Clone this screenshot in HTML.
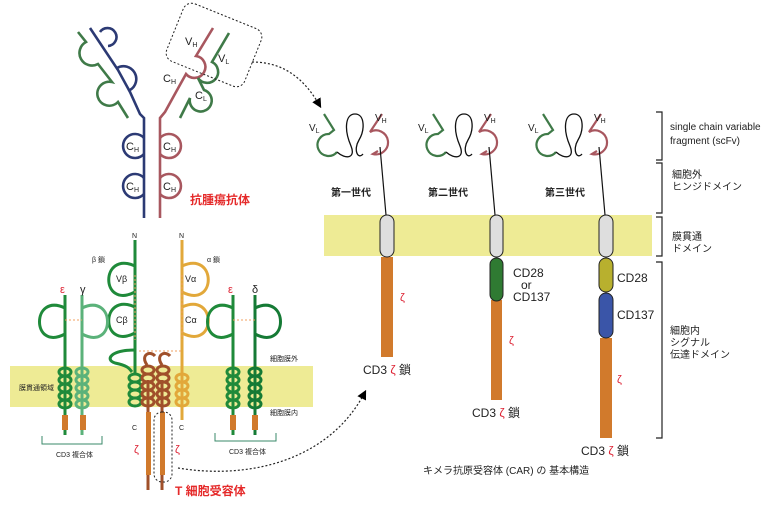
<!DOCTYPE html>
<html><head><meta charset="utf-8"><style>
html,body{margin:0;padding:0;background:#fff}
svg{display:block}
text{font-family:"Liberation Sans","Noto Sans CJK JP",sans-serif}
</style></head><body>
<svg width="777" height="512" viewBox="0 0 777 512" xmlns="http://www.w3.org/2000/svg">
<defs>
<marker id="ah" markerWidth="8" markerHeight="8" refX="6" refY="4" orient="auto"><path d="M0,0 L8,4 L0,8 z" fill="#000"/></marker>
<g id="scfv" fill="none" stroke-width="2.2">
<path d="M24,14 L34,30 L29,34 A11,11 0 1 0 37,52" stroke="#3f7a48"/>
<path d="M37,52 C46,60 56,58 51,46 C44,30 45,14 55,14 C65,14 65,30 59,40 C53,50 58,60 63,54" stroke="#111" stroke-width="1.3"/>
<path d="M82,14 L70,32 A12,12 0 1 1 73,54 L78,51" stroke="#a8575f"/>
<line x1="80" y1="47" x2="86" y2="115" stroke="#111" stroke-width="1.2"/>
</g>
</defs>

<!-- Antibody -->
<g fill="none" stroke-width="2.6">
<path d="M90,28 L118,70 L130,92 L140,114 L144,118 L144,218" stroke="#2c3a74"/>
<path d="M100,32 A9,9 0 1 1 108,46 M117,68 A10,10 0 1 1 130,90" stroke="#2c3a74"/>
<path d="M78,32 L86,42 A12,12 0 1 0 98,64 L112,82 A12,12 0 1 0 118,102 L128,118" stroke="#3f7a48"/>
<path d="M213,28 L196,56 A11,11 0 1 1 186,74 L176,92 L165,112 L160,118 L160,218" stroke="#a8575f"/>
<path d="M229,33 L212,62 A11,11 0 1 1 198,78 L204,90 A11,11 0 1 1 190,98 L180,118" stroke="#3f7a48"/>
<path d="M144,138 A12,12 0 1 0 144,154 M144,178 A12,12 0 1 0 144,194" stroke="#2c3a74"/>
<path d="M160,138 A12,12 0 1 1 160,154 M160,178 A12,12 0 1 1 160,194" stroke="#a8575f"/>
</g>
<g font-size="11" fill="#222">
<text x="126" y="150">C<tspan font-size="7" dy="2">H</tspan></text>
<text x="126" y="190">C<tspan font-size="7" dy="2">H</tspan></text>
<text x="163" y="150">C<tspan font-size="7" dy="2">H</tspan></text>
<text x="163" y="190">C<tspan font-size="7" dy="2">H</tspan></text>
<text x="163" y="82">C<tspan font-size="7" dy="2">H</tspan></text>
<text x="195" y="99">C<tspan font-size="7" dy="2">L</tspan></text>
<text x="185" y="45">V<tspan font-size="7" dy="2">H</tspan></text>
<text x="218" y="62">V<tspan font-size="7" dy="2">L</tspan></text>
</g>
<text x="190" y="204" font-size="12" font-weight="bold" fill="#e52a2a">抗腫瘍抗体</text>
<rect x="172" y="14" width="84" height="62" rx="9" fill="none" stroke="#222" stroke-dasharray="2,2" transform="rotate(22 214 45)"/>
<path d="M252,62 C285,62 305,80 320,106" fill="none" stroke="#222" stroke-width="1.2" stroke-dasharray="2,2" marker-end="url(#ah)"/>

<!-- TCR -->
<rect x="10" y="366" width="303" height="41" fill="#eeeb95"/>
<g fill="none" stroke-width="3">
<path d="M135,240 L135,375" stroke="#1f8a3a"/>
<path d="M135,266 C100,250 100,310 135,292 M135,307 C100,291 100,351 135,333" stroke="#1f8a3a"/>
<path d="M135,350 C110,350 105,360 115,363 C130,366 130,370 132,372" stroke="#1f8a3a"/>
<path d="M182,240 L182,420" stroke="#e2a83a"/>
<path d="M182,266 C217,250 217,310 182,292 M182,307 C217,291 217,351 182,333" stroke="#e2a83a"/>
<path d="M65,295 L65,435" stroke="#1f8a3a"/>
<path d="M82,295 L82,435" stroke="#5bb27a"/>
<path d="M65,308 C31,292 31,352 65,334" stroke="#1f8a3a"/>
<path d="M82,308 C116,292 116,352 82,334" stroke="#5bb27a"/>
<path d="M233,295 L233,435" stroke="#1f8a3a"/>
<path d="M255,295 L255,435" stroke="#157a35"/>
<path d="M233,308 C199,292 199,352 233,334" stroke="#1f8a3a"/>
<path d="M255,308 C289,292 289,352 255,334" stroke="#157a35"/>
<path d="M148,380 L148,490 M162,380 L162,490" stroke="#a0502a"/>
<path d="M147,365 C140,355 150,350 155,356 M162,365 C155,355 165,350 170,356" stroke="#a0502a"/>
</g>
<g fill="none" stroke-width="3">
<g stroke="#1f8a3a"><ellipse cx="135" cy="378" rx="6" ry="4"/><ellipse cx="135" cy="386" rx="6" ry="4"/><ellipse cx="135" cy="394" rx="6" ry="4"/><ellipse cx="135" cy="402" rx="6" ry="4"/></g>
<g stroke="#a0502a"><ellipse cx="148" cy="370" rx="6" ry="4"/><ellipse cx="148" cy="378" rx="6" ry="4"/><ellipse cx="148" cy="386" rx="6" ry="4"/><ellipse cx="148" cy="394" rx="6" ry="4"/><ellipse cx="148" cy="402" rx="6" ry="4"/>
<ellipse cx="163" cy="370" rx="6" ry="4"/><ellipse cx="163" cy="378" rx="6" ry="4"/><ellipse cx="163" cy="386" rx="6" ry="4"/><ellipse cx="163" cy="394" rx="6" ry="4"/><ellipse cx="163" cy="402" rx="6" ry="4"/></g>
<g stroke="#e2a83a"><ellipse cx="182" cy="378" rx="6" ry="4"/><ellipse cx="182" cy="386" rx="6" ry="4"/><ellipse cx="182" cy="394" rx="6" ry="4"/><ellipse cx="182" cy="402" rx="6" ry="4"/></g>
<g stroke="#1f8a3a"><ellipse cx="65" cy="372" rx="6" ry="4"/><ellipse cx="65" cy="380" rx="6" ry="4"/><ellipse cx="65" cy="388" rx="6" ry="4"/><ellipse cx="65" cy="396" rx="6" ry="4"/><ellipse cx="65" cy="404" rx="6" ry="4"/>
<ellipse cx="233" cy="372" rx="6" ry="4"/><ellipse cx="233" cy="380" rx="6" ry="4"/><ellipse cx="233" cy="388" rx="6" ry="4"/><ellipse cx="233" cy="396" rx="6" ry="4"/><ellipse cx="233" cy="404" rx="6" ry="4"/></g>
<g stroke="#5bb27a"><ellipse cx="82" cy="372" rx="6" ry="4"/><ellipse cx="82" cy="380" rx="6" ry="4"/><ellipse cx="82" cy="388" rx="6" ry="4"/><ellipse cx="82" cy="396" rx="6" ry="4"/><ellipse cx="82" cy="404" rx="6" ry="4"/></g>
<g stroke="#157a35"><ellipse cx="255" cy="372" rx="6" ry="4"/><ellipse cx="255" cy="380" rx="6" ry="4"/><ellipse cx="255" cy="388" rx="6" ry="4"/><ellipse cx="255" cy="396" rx="6" ry="4"/><ellipse cx="255" cy="404" rx="6" ry="4"/></g>
</g>
<g fill="#d17a2c">
<rect x="146" y="412" width="5" height="63"/><rect x="160" y="412" width="5" height="63"/>
<rect x="62" y="415" width="6" height="15"/><rect x="80" y="415" width="6" height="15"/>
<rect x="230" y="415" width="6" height="15"/><rect x="252" y="415" width="6" height="15"/>
</g>
<g stroke="#f0a060" stroke-dasharray="2,2" stroke-width="1">
<line x1="135" y1="275" x2="135" y2="340"/><line x1="182" y1="275" x2="182" y2="340"/>
<line x1="139" y1="351" x2="182" y2="351"/>
<line x1="65" y1="320" x2="82" y2="320"/><line x1="233" y1="320" x2="255" y2="320"/>
</g>
<rect x="154" y="412" width="18" height="70" rx="8" fill="none" stroke="#222" stroke-dasharray="2,2"/>
<path d="M178,468 C250,480 330,460 365,392" fill="none" stroke="#222" stroke-width="1.2" stroke-dasharray="2,2" marker-end="url(#ah)"/>
<g stroke="#3a8a6a" fill="none" stroke-width="1"><path d="M42,436 L42,444 L102,444 L102,436"/><path d="M215,433 L215,441 L276,441 L276,433"/></g>
<g font-size="7" fill="#222">
<text x="132" y="238">N</text><text x="179" y="238">N</text>
<text x="132" y="430">C</text><text x="179" y="430">C</text>
<text x="92" y="262">β 鎖</text><text x="207" y="262">α 鎖</text>
<text x="19" y="390">膜貫通領域</text>
<text x="270" y="361">細胞膜外</text><text x="270" y="415">細胞膜内</text>
<text x="56" y="457">CD3 複合体</text><text x="229" y="454">CD3 複合体</text>
</g>
<g font-size="9" fill="#222"><text x="116" y="282">Vβ</text><text x="116" y="323">Cβ</text><text x="185" y="282">Vα</text><text x="185" y="323">Cα</text></g>
<g font-size="11" fill="#d23"><text x="60" y="293">ε</text><text x="228" y="293">ε</text><text x="134" y="453">ζ</text><text x="175" y="453">ζ</text></g>
<g font-size="11" fill="#222"><text x="80" y="293">γ</text><text x="252" y="293">δ</text></g>
<text x="175" y="495" font-size="12" font-weight="bold" fill="#e52a2a">T 細胞受容体</text>

<!-- CAR -->
<rect x="324" y="215" width="328" height="41" fill="#eeeb95"/>
<use href="#scfv" x="300" y="100"/>
<use href="#scfv" x="409" y="100"/>
<use href="#scfv" x="519" y="100"/>
<g font-size="10" fill="#222">
<text x="309" y="131">V<tspan font-size="7" dy="2">L</tspan></text><text x="375" y="121">V<tspan font-size="7" dy="2">H</tspan></text>
<text x="418" y="131">V<tspan font-size="7" dy="2">L</tspan></text><text x="484" y="121">V<tspan font-size="7" dy="2">H</tspan></text>
<text x="528" y="131">V<tspan font-size="7" dy="2">L</tspan></text><text x="594" y="121">V<tspan font-size="7" dy="2">H</tspan></text>
</g>
<g font-size="10" font-weight="bold" fill="#222"><text x="331" y="196">第一世代</text><text x="428" y="196">第二世代</text><text x="545" y="196">第三世代</text></g>
<g fill="#d17a2c"><rect x="381" y="257" width="12" height="100"/><rect x="491" y="300" width="11" height="100"/><rect x="600" y="338" width="12" height="100"/></g>
<g stroke="#222" stroke-width="1">
<rect x="380" y="215" width="14" height="42" rx="7" fill="#dedede"/>
<rect x="490" y="215" width="13" height="42" rx="6.5" fill="#dedede"/>
<rect x="490" y="258" width="13" height="43" rx="6.5" fill="#2f7a32"/>
<rect x="599" y="215" width="14" height="42" rx="7" fill="#dedede"/>
<rect x="599" y="258" width="14" height="34" rx="7" fill="#b8b02e"/>
<rect x="599" y="293" width="14" height="45" rx="7" fill="#3a55a8"/>
</g>
<g font-size="12" fill="#222">
<text x="363" y="374">CD3 <tspan fill="#d23">ζ</tspan> 鎖</text>
<text x="472" y="417">CD3 <tspan fill="#d23">ζ</tspan> 鎖</text>
<text x="581" y="455">CD3 <tspan fill="#d23">ζ</tspan> 鎖</text>
<text x="513" y="277">CD28</text><text x="521" y="289">or</text><text x="513" y="301">CD137</text>
<text x="617" y="282">CD28</text><text x="617" y="319">CD137</text>
</g>
<g font-size="11" fill="#d23"><text x="400" y="301">ζ</text><text x="509" y="344">ζ</text><text x="617" y="383">ζ</text></g>
<g stroke="#222" fill="none" stroke-width="1.2">
<path d="M656,112 L662,112 L662,160 L656,160"/>
<path d="M656,163 L662,163 L662,213 L656,213"/>
<path d="M656,217 L662,217 L662,256 L656,256"/>
<path d="M656,262 L662,262 L662,438 L656,438"/>
</g>
<g font-size="10" fill="#222">
<text x="670" y="130">single chain variable</text><text x="670" y="144">fragment (scFv)</text>
<text x="672" y="178">細胞外</text><text x="672" y="190">ヒンジドメイン</text>
<text x="672" y="240">膜貫通</text><text x="672" y="252">ドメイン</text>
<text x="670" y="334">細胞内</text><text x="670" y="346">シグナル</text><text x="670" y="358">伝達ドメイン</text>
<text x="423" y="474">キメラ抗原受容体 (CAR) の 基本構造</text>
</g>
</svg>
</body></html>
